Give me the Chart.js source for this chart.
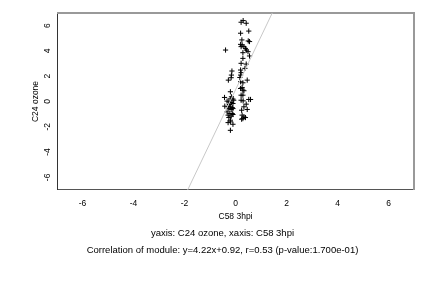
<!DOCTYPE html>
<html>
<head>
<meta charset="utf-8">
<script src="https://cdn.jsdelivr.net/npm/chart.js@4/dist/chart.umd.min.js"></script>
<style>
  html, body { margin:0; padding:0; background:#fff; }
  #wrap { width:432px; height:288px; }
</style>
</head>
<body>
<div id="wrap"><canvas id="c" width="432" height="288"></canvas></div>
<script>
// C58 3hpi (x) vs C24 ozone (y)
const xVals = [0.30,0.22,0.42,0.20,0.52,0.25,0.50,0.55,-0.39,0.20,0.26,0.33,0.39,0.43,0.49,0.22,0.29,0.55,0.29,0.22,
  0.42,0.37,0.20,0.22,0.20,0.17,0.46,-0.14,-0.16,-0.17,-0.28,0.20,0.29,0.26,0.20,0.29,0.33,0.22,0.29,0.52,
  0.59,0.22,0.30,0.42,0.33,0.46,0.24,0.26,0.33,0.29,0.39,0.24,
  -0.20,-0.16,-0.43,-0.20,-0.10,-0.33,-0.26,-0.17,-0.10,-0.42,-0.29,-0.20,-0.13,-0.26,-0.17,-0.10,-0.33,-0.22,
  -0.13,-0.29,-0.17,-0.10,-0.26,-0.20,-0.29,-0.20,-0.10,-0.20,-0.07,-0.24];
const yVals = [6.40,6.27,6.19,5.40,5.57,4.87,4.79,4.74,4.07,4.52,4.47,4.34,4.20,4.07,3.94,4.34,3.86,3.60,3.41,3.02,
  2.96,2.62,2.49,2.28,2.09,1.90,1.69,2.41,2.09,1.88,1.69,1.56,1.48,1.11,1.03,0.90,0.85,0.50,0.50,0.16,
  0.16,0.10,0.05,-0.21,-0.42,-0.63,-0.69,-1.08,-1.22,-1.35,-1.27,-1.40,
  0.77,0.37,0.32,0.21,0.19,0.03,-0.03,-0.08,-0.16,-0.37,-0.42,-0.42,-0.48,-0.56,-0.63,-0.56,-0.82,-0.95,
  -0.95,-1.08,-1.16,-1.03,-1.27,-1.48,-1.67,-1.61,-1.80,-2.28,0.10,-0.24];
const slope = 4.22, intercept = 0.92;
const xTicks = [-6,-4,-2,0,2,4,6];
const yTicks = [-6,-4,-2,0,2,4,6];
const xTitle = 'C58 3hpi', yTitle = 'C24 ozone';
const captions = ['yaxis: C24 ozone, xaxis: C58 3hpi',
  'Correlation of module: y=4.22x+0.92, r=0.53 (p-value:1.700e-01)'];

const pts = xVals.map((x, i) => ({ x, y: yVals[i] }));
const fitLine = [-7, 7].map(y => ({ x: (y - intercept) / slope, y }));

const font = { family: "'Liberation Sans', Arial, sans-serif", size: 8.5, weight: 'normal' };
Chart.defaults.color = '#000';

// grey top/right edges of the plot box
const boxPlugin = {
  id: 'box',
  beforeDatasetsDraw(chart) {
    const { ctx, chartArea: a } = chart;
    ctx.save();
    ctx.strokeStyle = '#999';
    ctx.lineWidth = 2;
    ctx.beginPath();
    ctx.moveTo(a.left, a.top); ctx.lineTo(a.right, a.top); ctx.lineTo(a.right, a.bottom);
    ctx.stroke();
    ctx.restore();
  }
};

new Chart(document.getElementById('c'), {
  type: 'scatter',
  data: {
    datasets: [
      { type: 'line', data: fitLine, borderColor: '#c8c8c8', borderWidth: 1, pointRadius: 0, fill: false },
      { data: pts, pointStyle: 'cross', pointRadius: 2.6, borderColor: '#000', borderWidth: 1 }
    ]
  },
  options: {
    responsive: false,
    animation: false,
    layout: { padding: { left: 31, right: 18, top: 13, bottom: 29.5 } },
    plugins: {
      legend: { display: false },
      tooltip: { enabled: false },
      title: { display: true, position: 'bottom', text: captions,
        font: { ...font, size: 9.5, lineHeight: 1.79 }, padding: { top: 3, bottom: 0 } }
    },
    scales: {
      x: {
        type: 'linear', min: -7, max: 7,
        afterBuildTicks: s => { s.ticks = xTicks.map(v => ({ value: v })); },
        afterFit: s => { s.height = 31.5; },
        grid: { display: false, drawTicks: false },
        border: { color: '#555', width: 1 },
        ticks: { font, padding: 9, maxRotation: 0 },
        title: { display: true, text: xTitle, font, padding: { top: 0, bottom: 0 } }
      },
      y: {
        type: 'linear', min: -7, max: 7,
        afterBuildTicks: s => { s.ticks = yTicks.map(v => ({ value: v })); },
        afterFit: s => { s.width = 26; },
        grid: { display: false, drawTicks: false },
        border: { color: '#333', width: 1 },
        ticks: { font, padding: 6, minRotation: 90, maxRotation: 90, crossAlign: 'center' },
        title: { display: true, text: yTitle, font, padding: 0 }
      }
    }
  },
  plugins: [boxPlugin]
});
</script>
</body>
</html>
